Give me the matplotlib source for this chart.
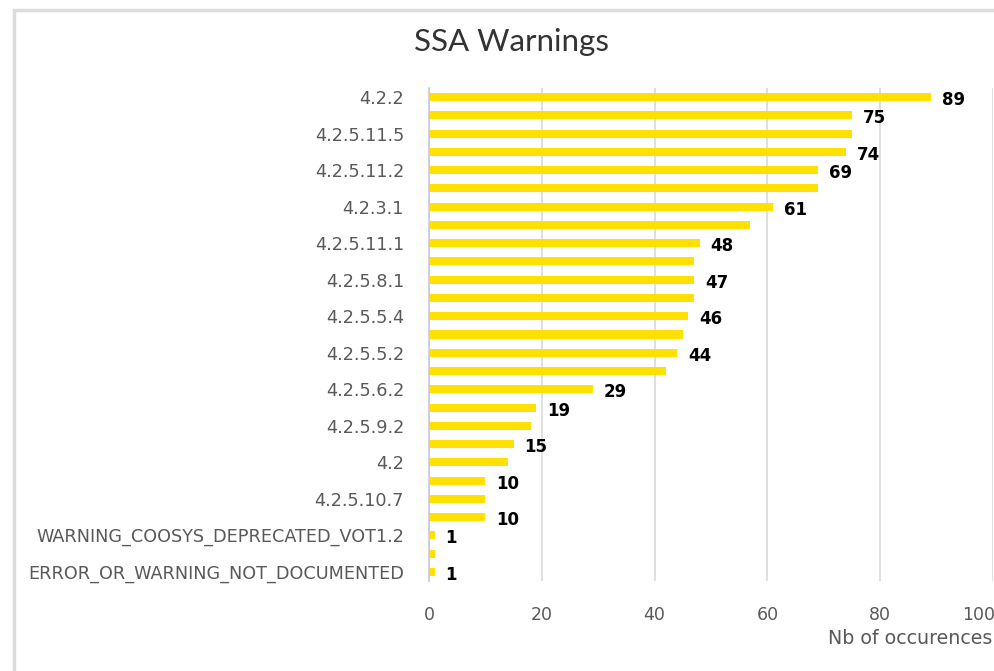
import matplotlib
matplotlib.use("Agg")
import matplotlib.pyplot as plt
from matplotlib.patches import Rectangle
from matplotlib.transforms import ScaledTranslation

# ---- data (top to bottom) ----
categories = [
    "4.2.2", "", "4.2.5.11.5", "", "4.2.5.11.2", "", "4.2.3.1", "",
    "4.2.5.11.1", "", "4.2.5.8.1", "", "4.2.5.5.4", "", "4.2.5.5.2", "",
    "4.2.5.6.2", "", "4.2.5.9.2", "", "4.2", "", "4.2.5.10.7", "",
    "WARNING_COOSYS_DEPRECATED_VOT1.2", "", "ERROR_OR_WARNING_NOT_DOCUMENTED",
]
values = [89, 75, 75, 74, 69, 69, 61, 57, 48, 47, 47, 47, 46, 45, 44, 42,
          29, 19, 18, 15, 14, 10, 10, 10, 1, 1, 1]
# indices (top to bottom) whose value label is displayed
labelled = [0, 1, 3, 4, 6, 8, 10, 12, 14, 16, 17, 19, 21, 23, 24, 26]
x_ticks = [0, 20, 40, 60, 80, 100]
title = "SSA Warnings"
x_label = "Nb of occurences"

W, H = 994, 671
fig = plt.figure(figsize=(W / 100, H / 100), dpi=100)
fig.patch.set_facecolor("white")

# card border (behind everything)
card = Rectangle((14 / W, -0.1), 1.2, 1 - 10 / H + 0.1,
                 transform=fig.transFigure, facecolor="white",
                 edgecolor="#dcdcdc", linewidth=2.5, zorder=-10)
fig.patches.append(card)

ax = fig.add_axes([429 / W, 1 - 581 / H, (993 - 429) / W, (581 - 88) / H],
                  zorder=5)
ax.set_facecolor("none")

n = len(values)
ypos = list(range(n))
ax.barh(ypos, values, height=0.44, color="#FFE000", zorder=3)
ax.set_ylim(n - 0.5, -0.5)
ax.set_xlim(0, 100)

ax.set_yticks(ypos)
ax.set_yticklabels(categories, fontsize=12.7, color="#595959",
                   family="DejaVu Sans")
ax.set_xticks(x_ticks)
ax.set_xticklabels([str(t) for t in x_ticks], fontsize=12.5, color="#595959")
ax.tick_params(axis="y", length=0, pad=18)
ax.tick_params(axis="x", length=0, pad=18)
# nudge the last tick label so it stays inside the picture
last = ax.get_xticklabels()[-1]
last.set_transform(last.get_transform() +
                   ScaledTranslation(-14 / 100, 0, fig.dpi_scale_trans))

ax.grid(axis="x", color="#d9d9d9", linewidth=1.2, zorder=0)
for s in ["top", "right", "bottom"]:
    ax.spines[s].set_visible(False)
ax.spines["left"].set_color("#c3cbdc")
ax.spines["left"].set_linewidth(1.2)
ax.spines["left"].set_zorder(4)

for i in labelled:
    ax.annotate(str(values[i]), (values[i], i), xytext=(11, -3),
                textcoords="offset pixels", ha="left", va="center",
                fontsize=12, fontweight="bold", color="black")

fig.text(512 / W, 1 - 42 / H, title, ha="center", va="center",
         fontsize=22.5, color="#333333", family="Lato")
fig.text(992 / W, 1 - 638 / H, x_label, ha="right", va="center",
         fontsize=13.7, color="#595959")

fig.savefig("out.png", dpi=100, facecolor="white")
